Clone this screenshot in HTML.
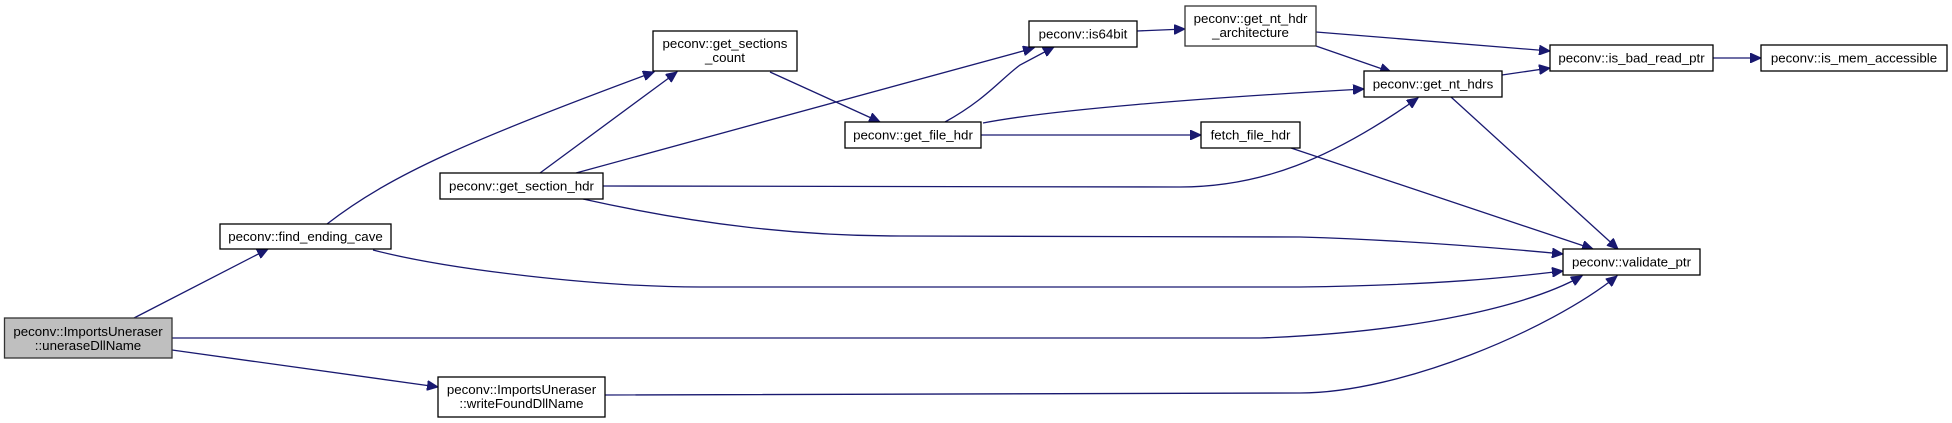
<!DOCTYPE html>
<html><head><meta charset="utf-8"><style>
html,body{margin:0;padding:0;background:#fff;width:1952px;height:423px;overflow:hidden}
svg text{font-family:"Liberation Sans",Arial,sans-serif;font-size:13.3px;fill:#000;text-anchor:middle}
</style></head><body>
<svg width="1952" height="423" viewBox="0 0 1952 423" xmlns="http://www.w3.org/2000/svg">
<defs>
<marker id="a" markerUnits="userSpaceOnUse" markerWidth="12" markerHeight="10" refX="11" refY="5" orient="auto">
<path d="M0,0 L11,5 L0,10 Z" fill="#191970" stroke="#191970"/>
</marker>
</defs>
<g fill="none" stroke="#191970" stroke-width="1.3" marker-end="url(#a)">
<path d="M134,318 L268,249"/>
<path d="M172,350 L438,387"/>
<path d="M172,338 L1260,338 C1420,332 1530,305 1582,276"/>
<path d="M373,250 C450,270 600,287 700,287 L1300,287 C1450,285 1520,276 1563,271"/>
<path d="M583,199 C700,225 800,236 900,236 L1300,237 C1400,240 1500,248 1563,254"/>
<path d="M605,395 L1300,393 C1400,393 1550,330 1617,276"/>
<path d="M603,186 L1180,187 C1260,187 1330,160 1418,98"/>
<path d="M540,173 L677,72"/>
<path d="M327,224 C390,175 470,140 654,72"/>
<path d="M576,173 L1034,48"/>
<path d="M770,72 L880,122"/>
<path d="M945,122 C985,100 1000,80 1020,65 L1054,47"/>
<path d="M983,123 C1050,110 1200,98 1364,89"/>
<path d="M981,135 L1201,135"/>
<path d="M1137,31 L1185,29"/>
<path d="M1316,32 L1550,51"/>
<path d="M1316,46 L1391,72"/>
<path d="M1502,75 L1550,68"/>
<path d="M1713,58 L1761,58"/>
<path d="M1451,97 L1618,249"/>
<path d="M1291,148 L1593,249"/>
</g>
<g stroke="#000" stroke-width="1.3" fill="#fff">
<rect x="4.5" y="318" width="167.5" height="40" fill="#bfbfbf" stroke="#333"/>
<rect x="220" y="224" width="171" height="25"/>
<rect x="440" y="173" width="163" height="26"/>
<rect x="438" y="377" width="167" height="40"/>
<rect x="653" y="31" width="144" height="40"/>
<rect x="845" y="122" width="136" height="26"/>
<rect x="1029" y="21" width="108" height="26"/>
<rect x="1185" y="6" width="131" height="40" stroke="#333"/>
<rect x="1201" y="122" width="99" height="26"/>
<rect x="1364" y="71" width="138" height="26"/>
<rect x="1550" y="45" width="163" height="26"/>
<rect x="1761" y="45" width="186" height="26"/>
<rect x="1563" y="249" width="137" height="26"/>
</g>
<text x="88" y="336">peconv::ImportsUneraser</text>
<text x="88" y="350">::uneraseDllName</text>
<text x="305.5" y="241">peconv::find_ending_cave</text>
<text x="521.5" y="190.5">peconv::get_section_hdr</text>
<text x="521.5" y="394">peconv::ImportsUneraser</text>
<text x="521.5" y="408">::writeFoundDllName</text>
<text x="725" y="48">peconv::get_sections</text>
<text x="725" y="62">_count</text>
<text x="913" y="139.5">peconv::get_file_hdr</text>
<text x="1083" y="38.5">peconv::is64bit</text>
<text x="1250.5" y="23">peconv::get_nt_hdr</text>
<text x="1250.5" y="37">_architecture</text>
<text x="1250.5" y="139.5">fetch_file_hdr</text>
<text x="1433" y="88.5">peconv::get_nt_hdrs</text>
<text x="1631.5" y="62.5">peconv::is_bad_read_ptr</text>
<text x="1854" y="62.5">peconv::is_mem_accessible</text>
<text x="1631.5" y="266.5">peconv::validate_ptr</text>
</svg>
</body></html>
